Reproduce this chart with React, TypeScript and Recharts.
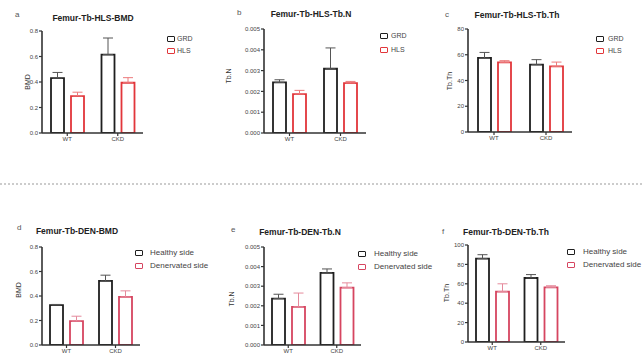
import { BarChart, Bar, XAxis, YAxis, ErrorBar } from "recharts";

const categories = ["WT", "CKD"];

// top row: GRD vs HLS
const hlsSeries = ["GRD", "HLS"];
const hlsBmdGrd = [0.43, 0.615];
const hlsBmdGrdErr = [0.045, 0.13];
const hlsBmdHls = [0.29, 0.394];
const hlsBmdHlsErr = [0.03, 0.04];
const hlsTbnGrd = [0.00243, 0.00309];
const hlsTbnGrdErr = [0.00013, 0.001];
const hlsTbnHls = [0.00187, 0.0024];
const hlsTbnHlsErr = [0.00018, 0.00008];
const hlsTbthGrd = [57.5, 52.3];
const hlsTbthGrdErr = [4.3, 3.9];
const hlsTbthHls = [54.1, 51];
const hlsTbthHlsErr = [1.3, 3.3];

// bottom row: healthy vs denervated
const denSeries = ["Healthy side", "Denervated side"];
const denBmdHealthy = [0.326, 0.523];
const denBmdHealthyErr = [0.005, 0.047];
const denBmdDen = [0.195, 0.393];
const denBmdDenErr = [0.04, 0.049];
const denTbnHealthy = [0.00237, 0.00368];
const denTbnHealthyErr = [0.00022, 0.0002];
const denTbnDen = [0.00195, 0.00293];
const denTbnDenErr = [0.0007, 0.00024];
const denTbthHealthy = [86, 66];
const denTbthHealthyErr = [4, 3.5];
const denTbthDen = [52, 56.4];
const denTbthDenErr = [8, 1.6];

const bmdTicks = [0, 0.2, 0.4, 0.6, 0.8];
const tbnTicks = [0, 0.001, 0.002, 0.003, 0.004, 0.005];
const hlsTbthTicks = [0, 20, 40, 60, 80];
const denTbthTicks = [0, 20, 40, 60, 80, 100];

const FONT = "Arial, 'Liberation Sans', sans-serif";
const BLACK = "#1f1f1f";
const RED_TOP = "#e2363a";
const RED_BOTTOM = "#d64560";
const AXIS = "#333";

type PanelProps = {
  letter: string;
  letterPos: [number, number];
  title: string;
  titlePos: [number, number];
  yLabel: string;
  yLabelPos: [number, number];
  names: string[];
  s1: number[];
  s1Err: number[];
  s2: number[];
  s2Err: number[];
  ticks: number[];
  decimals: number;
  // plot area: left, top, bottom, right (page px)
  plot: [number, number, number, number];
  red: string;
  errRed: string;
  legend: { iconX: number; textX: number; rows: [number, number]; size: number };
};

function Panel(p: PanelProps) {
  const [pl, pt, pb, pr] = p.plot;
  const yW = 40;
  const mTop = 5;
  const xH = 20;
  const width = yW + (pr - pl) + 4;
  const height = mTop + (pb - pt) + xH;

  const data = categories.map((c, i) => ({
    name: c,
    a: p.s1[i],
    b: p.s2[i],
    aErr: [0, p.s1Err[i]],
    bErr: [0, p.s2Err[i]],
  }));
  const max = p.ticks[p.ticks.length - 1];
  const tickStyle = { fontSize: 6, fill: "#444", fontFamily: FONT };

  return (
    <>
      <div
        style={{
          position: "absolute",
          left: p.letterPos[0],
          top: p.letterPos[1] - 5,
          fontSize: 8,
          lineHeight: "10px",
          color: "#555",
          fontFamily: FONT,
        }}
      >
        {p.letter}
      </div>
      <div
        style={{
          position: "absolute",
          left: p.titlePos[0] - 60,
          width: 120,
          top: p.titlePos[1] - 5,
          textAlign: "center",
          fontSize: 8.5,
          lineHeight: "10px",
          fontWeight: 700,
          color: "#222",
          fontFamily: FONT,
          whiteSpace: "nowrap",
        }}
      >
        {p.title}
      </div>
      <div
        style={{
          position: "absolute",
          left: p.yLabelPos[0] - 20,
          top: p.yLabelPos[1] - 5,
          width: 40,
          textAlign: "center",
          fontSize: 7,
          lineHeight: "10px",
          color: "#333",
          fontFamily: FONT,
          transform: "rotate(-90deg)",
        }}
      >
        {p.yLabel}
      </div>
      <div style={{ position: "absolute", left: pl - yW, top: pt - mTop }}>
        <BarChart
          width={width}
          height={height}
          data={data}
          margin={{ top: mTop, right: 4, left: 0, bottom: 0 }}
          barGap={7}
        >
          <XAxis
            dataKey="name"
            height={xH}
            tickSize={3}
            tickMargin={1}
            tick={tickStyle}
            axisLine={{ stroke: AXIS, strokeWidth: 1.6 }}
            tickLine={{ stroke: AXIS, strokeWidth: 1.2 }}
          />
          <YAxis
            type="number"
            domain={[0, max]}
            ticks={p.ticks}
            width={yW}
            tickSize={3}
            tickMargin={1}
            tick={tickStyle}
            tickFormatter={(v: number) => v.toFixed(p.decimals)}
            axisLine={{ stroke: AXIS, strokeWidth: 1.6 }}
            tickLine={{ stroke: AXIS, strokeWidth: 1.2 }}
            allowDataOverflow
          />
          <Bar dataKey="a" fill="#fff" stroke={BLACK} strokeWidth={1.8} barSize={13} isAnimationActive={false}>
            <ErrorBar dataKey="aErr" direction="y" width={5} stroke="#555" strokeWidth={1} />
          </Bar>
          <Bar dataKey="b" fill="#fff" stroke={p.red} strokeWidth={1.8} barSize={13} isAnimationActive={false}>
            <ErrorBar dataKey="bErr" direction="y" width={5} stroke={p.errRed} strokeWidth={1} />
          </Bar>
        </BarChart>
      </div>
      {p.names.map((n, i) => (
        <div key={n}>
          <div
            style={{
              position: "absolute",
              left: p.legend.iconX,
              top: p.legend.rows[i] - 3,
              width: 6,
              height: 3.5,
              border: `1.6px solid ${i === 0 ? BLACK : p.red}`,
              borderRadius: 1,
              background: "#fff",
            }}
          />
          <div
            style={{
              position: "absolute",
              left: p.legend.textX,
              top: p.legend.rows[i] - 5,
              fontSize: p.legend.size,
              lineHeight: "10px",
              color: "#444",
              fontFamily: FONT,
              whiteSpace: "nowrap",
            }}
          >
            {n}
          </div>
        </div>
      ))}
    </>
  );
}

export default function App() {
  return (
    <div
      style={{
        position: "absolute",
        left: 0,
        top: 0,
        width: 642,
        height: 357,
        background: "#fff",
        overflow: "hidden",
      }}
    >
      <Panel
        letter="a"
        letterPos={[15, 15]}
        title="Femur-Tb-HLS-BMD"
        titlePos={[93, 18]}
        yLabel="BMD"
        yLabelPos={[28, 82]}
        names={hlsSeries}
        s1={hlsBmdGrd}
        s1Err={hlsBmdGrdErr}
        s2={hlsBmdHls}
        s2Err={hlsBmdHlsErr}
        ticks={bmdTicks}
        decimals={1}
        plot={[42, 31, 133, 143]}
        red={RED_TOP}
        errRed="#ec7a7c"
        legend={{ iconX: 167, textX: 177, rows: [39, 51], size: 7 }}
      />
      <Panel
        letter="b"
        letterPos={[237, 13]}
        title="Femur-Tb-HLS-Tb.N"
        titlePos={[311, 14]}
        yLabel="Tb.N"
        yLabelPos={[229, 76]}
        names={hlsSeries}
        s1={hlsTbnGrd}
        s1Err={hlsTbnGrdErr}
        s2={hlsTbnHls}
        s2Err={hlsTbnHlsErr}
        ticks={tbnTicks}
        decimals={3}
        plot={[264, 29, 133, 366]}
        red={RED_TOP}
        errRed="#ec7a7c"
        legend={{ iconX: 380, textX: 391, rows: [36, 50], size: 7 }}
      />
      <Panel
        letter="c"
        letterPos={[445, 15]}
        title="Femur-Tb-HLS-Tb.Th"
        titlePos={[517, 15]}
        yLabel="Tb.Th"
        yLabelPos={[450, 81]}
        names={hlsSeries}
        s1={hlsTbthGrd}
        s1Err={hlsTbthGrdErr}
        s2={hlsTbthHls}
        s2Err={hlsTbthHlsErr}
        ticks={hlsTbthTicks}
        decimals={0}
        plot={[468, 29, 132, 572]}
        red={RED_TOP}
        errRed="#ec7a7c"
        legend={{ iconX: 596, textX: 608, rows: [39, 51], size: 7 }}
      />

      <svg style={{ position: "absolute", left: 0, top: 183 }} width={642} height={2}>
        <line x1={0} y1={1} x2={642} y2={1} stroke="#999" strokeWidth={1} strokeDasharray="2 2" />
      </svg>

      <Panel
        letter="d"
        letterPos={[17, 228]}
        title="Femur-Tb-DEN-BMD"
        titlePos={[77, 231]}
        yLabel="BMD"
        yLabelPos={[19, 290]}
        names={denSeries}
        s1={denBmdHealthy}
        s1Err={denBmdHealthyErr}
        s2={denBmdDen}
        s2Err={denBmdDenErr}
        ticks={bmdTicks}
        decimals={1}
        plot={[42, 247, 345, 140]}
        red={RED_BOTTOM}
        errRed="#e58a9c"
        legend={{ iconX: 135, textX: 150, rows: [253, 266], size: 8 }}
      />
      <Panel
        letter="e"
        letterPos={[231, 230]}
        title="Femur-Tb-DEN-Tb.N"
        titlePos={[300, 232]}
        yLabel="Tb.N"
        yLabelPos={[232, 299]}
        names={denSeries}
        s1={denTbnHealthy}
        s1Err={denTbnHealthyErr}
        s2={denTbnDen}
        s2Err={denTbnDenErr}
        ticks={tbnTicks}
        decimals={3}
        plot={[264, 247, 345, 361]}
        red={RED_BOTTOM}
        errRed="#e58a9c"
        legend={{ iconX: 358, textX: 374, rows: [254, 267], size: 8 }}
      />
      <Panel
        letter="f"
        letterPos={[442, 232]}
        title="Femur-Tb-DEN-Tb.Th"
        titlePos={[506, 232]}
        yLabel="Tb.Th"
        yLabelPos={[447, 293]}
        names={denSeries}
        s1={denTbthHealthy}
        s1Err={denTbthHealthyErr}
        s2={denTbthDen}
        s2Err={denTbthDenErr}
        ticks={denTbthTicks}
        decimals={0}
        plot={[468, 245, 342, 565]}
        red={RED_BOTTOM}
        errRed="#e58a9c"
        legend={{ iconX: 567, textX: 583, rows: [252, 265], size: 8 }}
      />
    </div>
  );
}
